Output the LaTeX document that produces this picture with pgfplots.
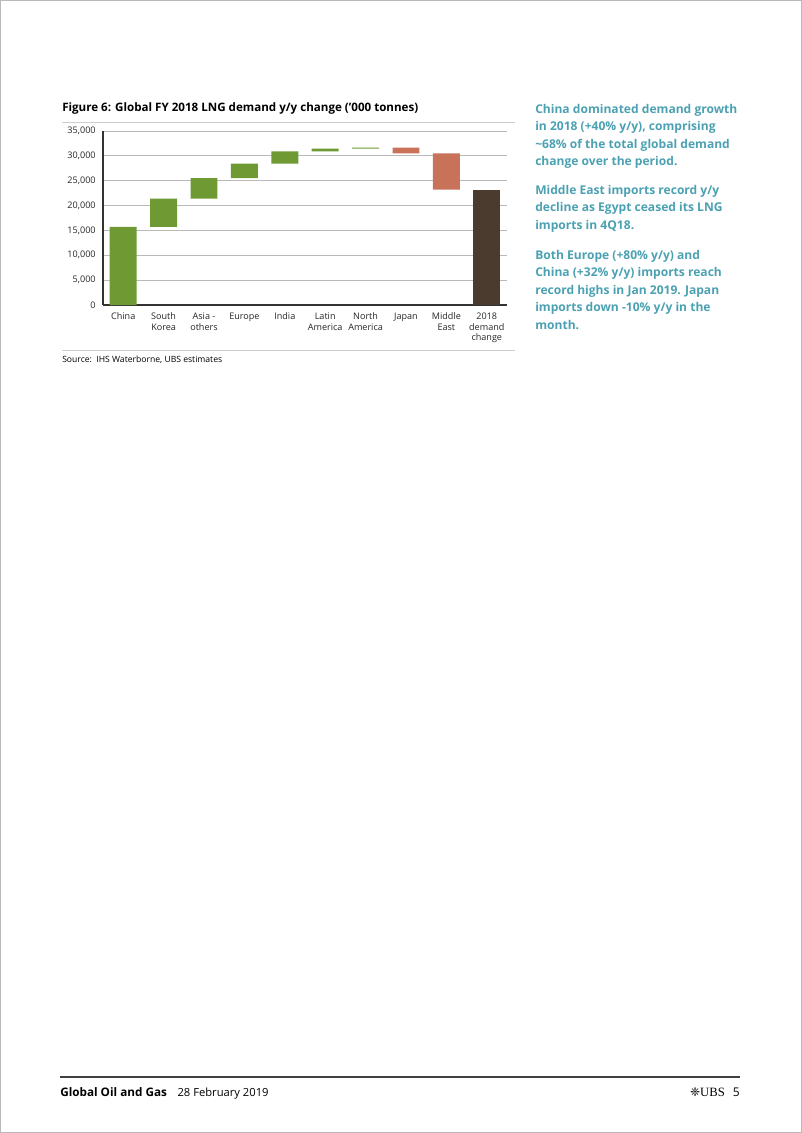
\documentclass[border=0pt]{standalone}
\usepackage{fontspec}
\setmainfont{Open Sans}
\newfontfamily\dejavu{DejaVu Sans}
\newfontfamily\ubsserif{Liberation Serif}
\usepackage{pgfplots}
\usepackage{pgfplotstable}
\pgfplotsset{compat=1.18}
\definecolor{lnggreen}{RGB}{111,154,51}
\definecolor{lngred}{RGB}{200,114,90}
\definecolor{lngbrown}{RGB}{75,58,46}
\definecolor{ubsteal}{RGB}{75,161,178}
\definecolor{gridgray}{RGB}{185,185,185}
\definecolor{rulegray}{RGB}{205,205,205}

\pgfplotstableread{
x base up down total
0 0     15700 0    0
1 15700 5700  0    0
2 21400 4100  0    0
3 25500 2950  0    0
4 28450 2450  0    0
5 30900 550   0    0
6 31450 200   0    0
7 30500 0     1150 0
8 23200 0     7300 0
9 0     0     0    23200
}\wf

\begin{document}
\begin{tikzpicture}
\begin{scope}[x=0.75pt,y=-0.75pt]
\useasboundingbox (0,0) rectangle (802,1133);
\draw[gray!55, line width=0.75pt] (0.5,0.5) rectangle (801.5,1132.5);
% title
\node[anchor=base west, inner sep=0pt] at (62,111) {\bfseries\fontsize{8.7}{11}\selectfont Figure 6: Global FY 2018 LNG demand y/y change (’000 tonnes)};
\draw[rulegray, line width=0.75pt] (62,122) -- (515,122);
\draw[rulegray, line width=0.75pt] (62,350) -- (515,350);
\node[anchor=base west, inner sep=0pt] at (62,362) {\fontsize{6.45}{8}\selectfont Source:\ \ IHS Waterborne, UBS estimates};
% side text
\tikzset{side/.style={anchor=north west, inner sep=0pt, align=left, text=ubsteal, font=\bfseries\fontsize{9.05}{13.1}\selectfont}}
\node[side] at (535,104) {China dominated demand growth\\in 2018 (+40\% y/y), comprising\\\textasciitilde 68\% of the total global demand\\change over the period.};
\node[side] at (535,185) {Middle East imports record y/y\\decline as Egypt ceased its LNG\\imports in 4Q18.};
\node[side] at (535,250) {Both Europe (+80\% y/y) and\\China (+32\% y/y) imports reach\\record highs in Jan 2019. Japan\\imports down -10\% y/y in the\\month.};
% footer
\draw[black!75, line width=0.9pt] (60,1077) -- (740,1077);
\node[anchor=base west, inner sep=0pt] at (60,1096) {\fontsize{8.8}{11}\selectfont\textbf{Global Oil and Gas}\hspace{0.9em}{\fontsize{8.4}{11}\selectfont 28 February 2019}};
\node[anchor=base east, inner sep=0pt] at (740,1096) {{\dejavu\fontsize{9}{11}\selectfont ❈}{\ubsserif\fontsize{9.5}{11}\selectfont UBS}\hspace{0.6em}{\fontsize{9}{11}\selectfont 5}};
\end{scope}
\begin{axis}[
  at={(77.25pt,-228.75pt)}, anchor=south west,
  scale only axis, width=303pt, height=130.5pt,
  xmin=-0.5, xmax=9.5, ymin=0, ymax=35000,
  ybar stacked, bar width=20.2pt,
  axis x line*=bottom, axis y line*=left,
  axis line style={black!80, line width=0.8pt, -},
  major tick length=0pt,
  ymajorgrids, grid style={gridgray, line width=0.6pt},
  ytick={0,5000,...,35000},
  scaled y ticks=false,
  /pgf/number format/1000 sep={,},
  /pgf/number format/assume math mode=true,
  xtick={0,...,9},
  xticklabels={China,{South\\Korea},{Asia -\\others},Europe,India,{Latin\\America},{North\\America},Japan,{Middle\\East},{2018\\demand\\change}},
  ticklabel style={font=\fontsize{6.8}{7.9}\selectfont, text=black!85},
  xticklabel style={align=center, yshift=-2.5pt},
  yticklabel style={xshift=-2pt},
  clip=false,
]
\addplot[draw=none, fill=none] table[x=x, y=base] {\wf};
\addplot[draw=none, fill=lnggreen] table[x=x, y=up] {\wf};
\addplot[draw=none, fill=lngred] table[x=x, y=down] {\wf};
\addplot[draw=none, fill=lngbrown] table[x=x, y=total] {\wf};
\end{axis}
\end{tikzpicture}
\end{document}
